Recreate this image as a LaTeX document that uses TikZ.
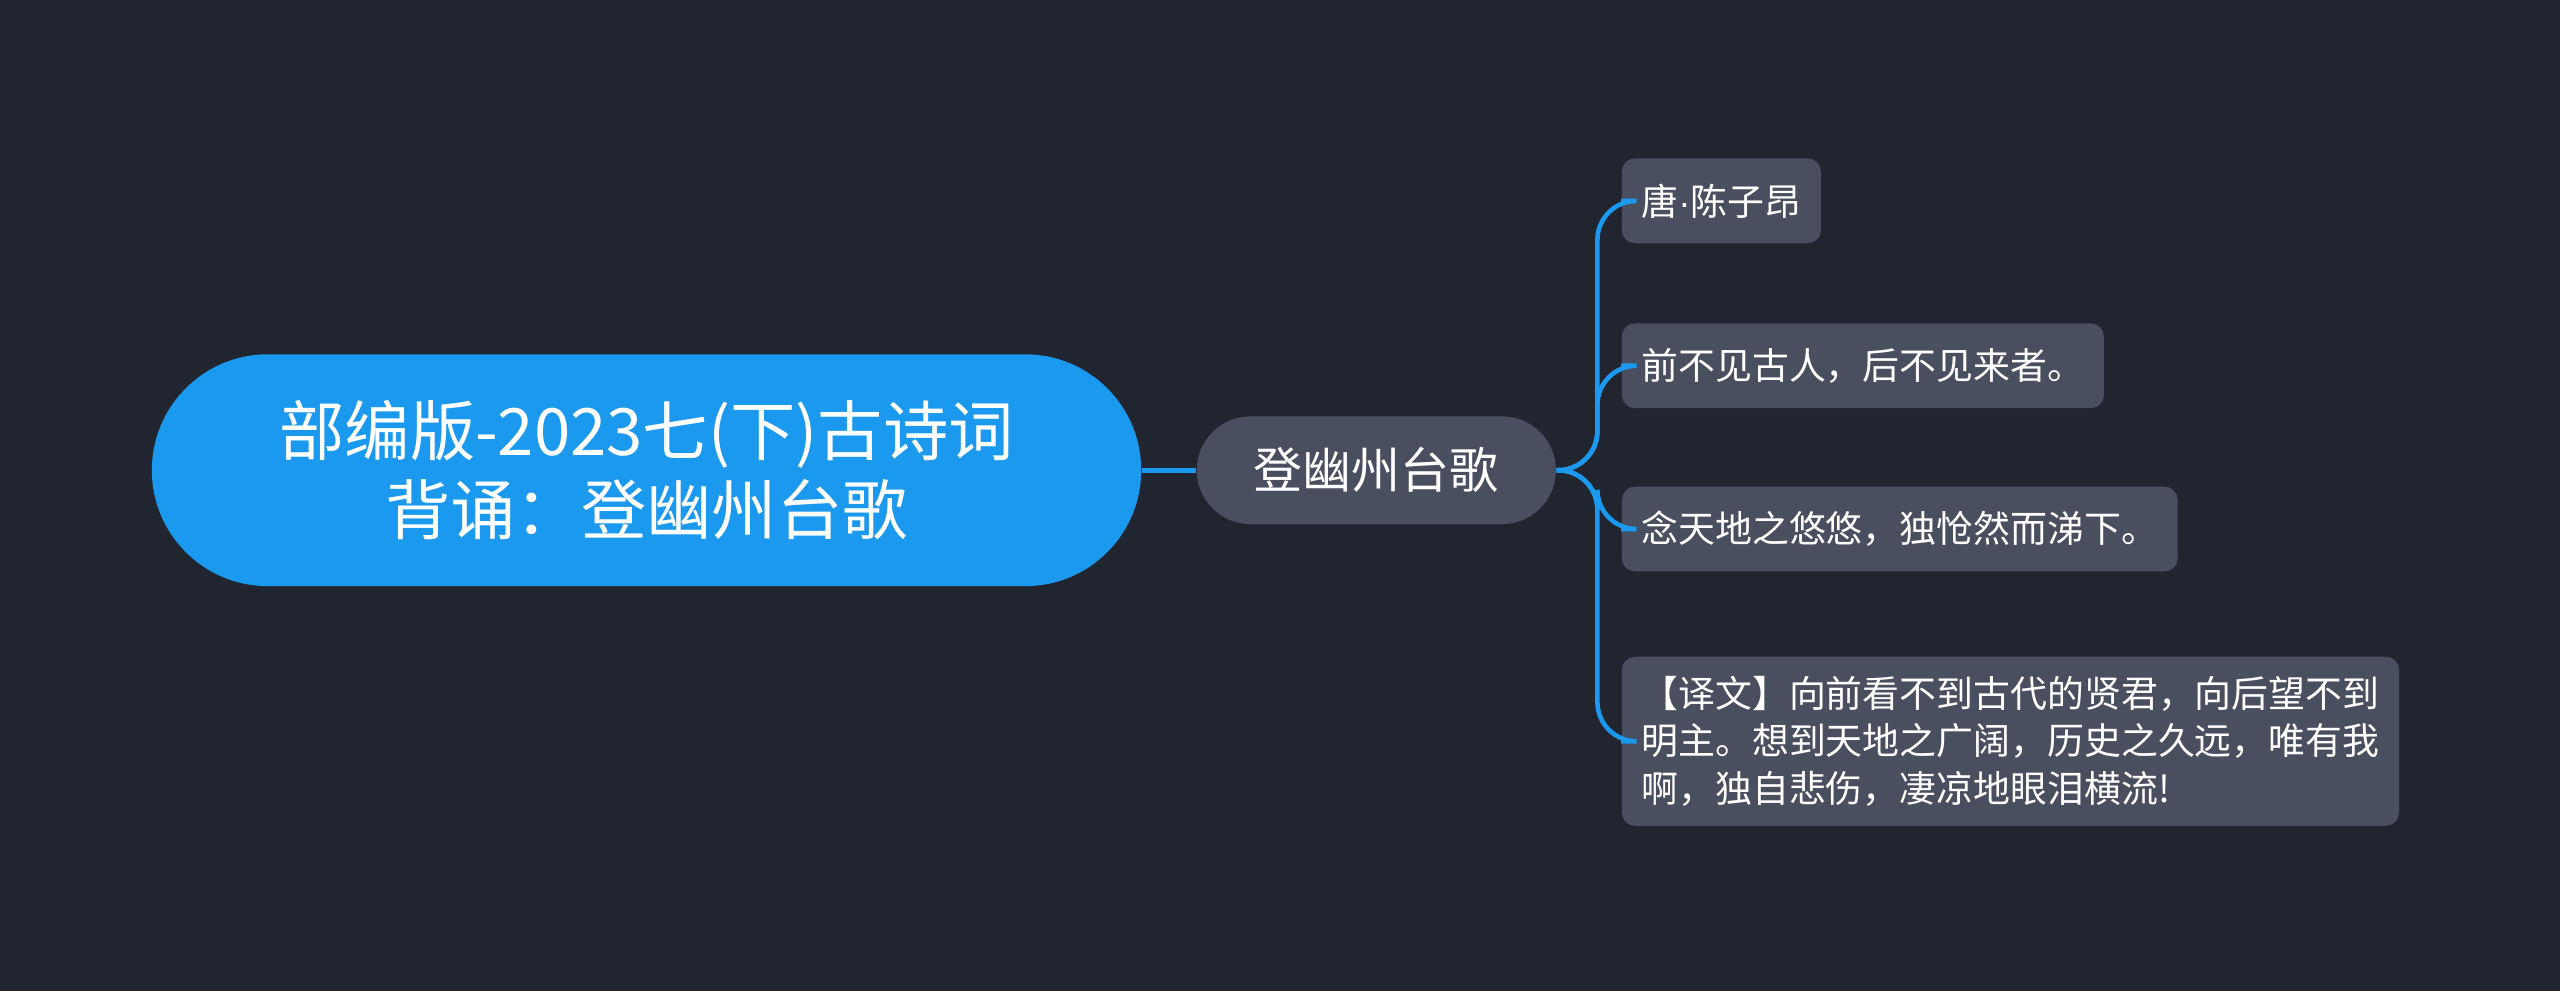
\documentclass[tikz,border=0pt]{standalone}
\usepackage{fontspec}
\setmainfont{Noto Sans CJK SC}
\newfontfamily\latinfont{Liberation Sans}
\usetikzlibrary{shapes.misc}
\definecolor{bgcol}{RGB}{33,37,48}
\definecolor{rootcol}{RGB}{26,153,238}
\definecolor{boxcol}{RGB}{74,79,96}
\definecolor{linecol}{RGB}{26,153,238}
\tikzstyle{Root}=[rounded rectangle,fill=rootcol,text=white,font=\fontsize{20}{24}\selectfont,align=center,minimum width=303pt,minimum height=71pt,inner sep=0pt]
\tikzstyle{Mid}=[rounded rectangle,fill=boxcol,text=white,font=\fontsize{15}{18}\selectfont,minimum width=110pt,minimum height=33pt,inner sep=0pt]
\tikzstyle{Leaf}=[rounded corners=4pt,fill=boxcol,text=white,font=\fontsize{11.3}{14.5}\selectfont,align=left,anchor=west,inner xsep=6pt,inner ysep=6pt,minimum height=26pt]
\tikzstyle{Line}=[linecol,line width=1.4pt]
\begin{document}
\begin{tikzpicture}[x=0.5pt,y=-0.5pt]
    \fill[bgcol] (0,0) rectangle (1568,607);
    \useasboundingbox (0,0) rectangle (1568,607);

    \node[Root] (root) at (396,288) {部编版-2023七(下)古诗词\\背诵：登幽州台歌};
    \node[Mid] (poem) at (843,288) {登幽州台歌};

    \node[Leaf] (auth) at (993,123) {唐{\latinfont ·}陈子昂};
    \node[Leaf] (one) at (993,224) {前不见古人，后不见来者。};
    \node[Leaf] (two) at (993,324) {念天地之悠悠，独怆然而涕下。};
    \node[Leaf] (tran) at (993,454) {【译文】向前看不到古代的贤君，向后望不到\\明主。想到天地之广阔，历史之久远，唯有我\\啊，独自悲伤，凄凉地眼泪横流!};

    \draw[Line] (root.east) -- (poem.west);
    \foreach \n in {auth,one,two,tran}
        \draw[Line,rounded corners=12pt] (poem.east) -- ++(25,0) |- (\n.west);

\end{tikzpicture}
\end{document}
